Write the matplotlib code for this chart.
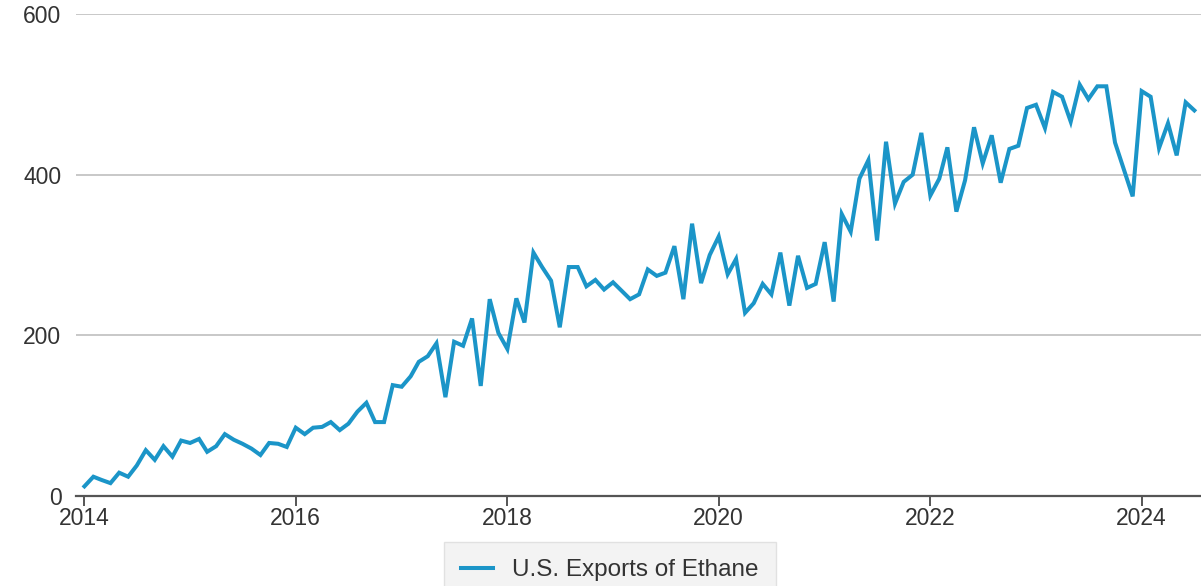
import numpy as np
import pandas as pd
import matplotlib
matplotlib.use("Agg")
import matplotlib.pyplot as plt
import matplotlib.dates as mdates

plt.rcParams['font.family'] = ['Liberation Sans', 'DejaVu Sans']

start_month = '2014-01-01'
series_name = 'U.S. Exports of Ethane'

# monthly values, Jan 2014 .. Jul 2024
exports = [
    12, 24, 20, 16, 29, 24, 38, 57, 45, 62, 49, 69,          # 2014
    66, 71, 55, 62, 77, 70, 65, 59, 51, 66, 65, 61,          # 2015
    85, 77, 85, 86, 92, 82, 90, 105, 116, 92, 92, 138,       # 2016
    136, 149, 167, 174, 190, 123, 192, 187, 221, 137, 245, 203,  # 2017
    183, 246, 216, 303, 285, 268, 210, 285, 285, 261, 269, 257,  # 2018
    266, 255, 245, 251, 282, 274, 278, 311, 245, 339, 265, 300,  # 2019
    323, 276, 295, 228, 240, 264, 251, 303, 237, 299, 259, 264,  # 2020
    316, 242, 351, 329, 395, 418, 318, 441, 364, 391, 400, 452,  # 2021
    374, 395, 434, 354, 393, 459, 414, 449, 390, 432, 436, 483,  # 2022
    487, 458, 503, 497, 466, 512, 494, 510, 510, 440, 406, 373,  # 2023
    504, 497, 433, 464, 424, 490, 480,                       # 2024
]
months = pd.date_range(start_month, periods=len(exports), freq='MS')

yticks = [0, 200, 400, 600]

fig = plt.figure(figsize=(12.01, 5.86), dpi=100)
ax = fig.add_axes([0.0633, 0.1536, 0.9367, 0.8225])

ax.plot(months, exports, color='#1b95c8', lw=2.9, solid_joinstyle='miter',
        label=series_name, zorder=3)

ax.set_ylim(0, 600)
ax.set_yticks(yticks)
ax.set_xlim(pd.Timestamp('2013-12-03'), pd.Timestamp('2024-07-24'))
ax.xaxis.set_major_locator(mdates.YearLocator(2))
ax.xaxis.set_major_formatter(mdates.DateFormatter('%Y'))

ax.grid(axis='y', color='#c8c8c8', lw=1.4)
ax.set_axisbelow(True)
for side in ['top', 'right', 'left']:
    ax.spines[side].set_visible(False)
ax.spines['bottom'].set_color('#555555')
ax.spines['bottom'].set_linewidth(1.6)
ax.spines['bottom'].set_zorder(4)

ax.tick_params(axis='y', length=0, pad=10.5, labelsize=16.5, labelcolor='#333333')
ax.tick_params(axis='x', length=7, width=1.4, color='#555555', pad=1,
               labelsize=16.5, labelcolor='#333333')

leg = fig.legend(loc='upper center', bbox_to_anchor=(0.508, 0.075),
                 borderaxespad=0, frameon=True, fontsize=17.5, handlelength=1.3,
                 borderpad=0.7, fancybox=False, labelcolor='#333333')
leg.get_frame().set_facecolor('#f0f0f0')
leg.get_frame().set_edgecolor('#dcdcdc')

fig.savefig('out.png', dpi=100)
